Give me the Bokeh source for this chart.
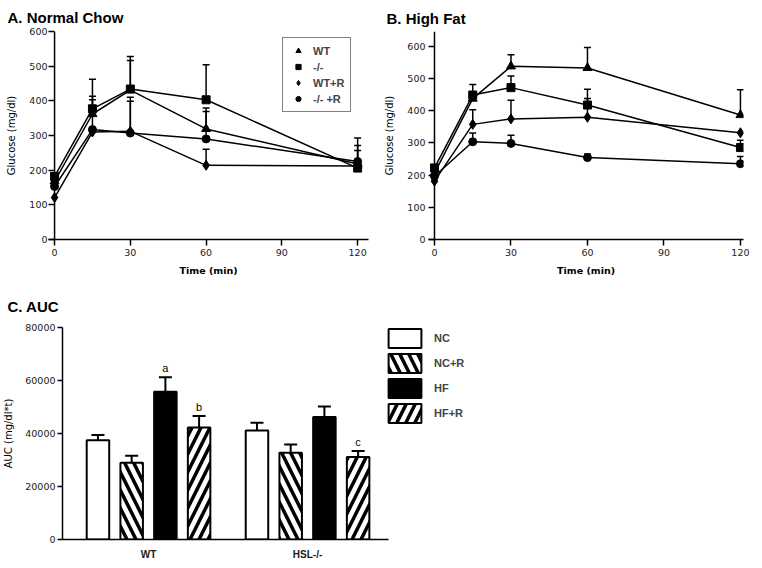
import numpy as np
from bokeh.plotting import figure
from bokeh.models import (ColumnDataSource, Whisker, TeeHead, Legend, LegendItem,
                          FixedTicker, Range1d, Span, Title)
from bokeh.layouts import column, row
from bokeh.embed import file_html
from bokeh.resources import INLINE

# ------------------------------------------------------------------ data
time_min = [0, 15, 30, 60, 120]
time_ticks = [0, 30, 60, 90, 120]
glucose_ticks = [0, 100, 200, 300, 400, 500, 600]

series_names = ["WT", "-/-", "WT+R", "-/- +R"]

# A. Normal chow (mean, SEM)
chow_wt = [168, 362, 431, 319, 218]
chow_wt_sem = [0, 51, 85, 60, 53]
chow_ko = [182, 377, 434, 403, 206]
chow_ko_sem = [0, 85, 94, 101, 0]
chow_wtr = [121, 310, 312, 214, 212]
chow_wtr_sem = [0, 0, 98, 46, 45]
chow_kor = [153, 317, 307, 290, 225]
chow_kor_sem = [0, 86, 92, 79, 68]

# B. High fat (mean, SEM)
hf_wt = [206, 437, 537, 532, 386]
hf_wt_sem = [0, 0, 36, 63, 78]
hf_ko = [222, 448, 471, 417, 285]
hf_ko_sem = [0, 33, 36, 49, 23]
hf_wtr = [181, 357, 374, 379, 331]
hf_wtr_sem = [0, 45, 58, 58, 0]
hf_kor = [196, 303, 298, 254, 235]
hf_kor_sem = [0, 27, 25, 11, 22]

# C. AUC
auc_groups = ["WT", "HSL-/-"]
auc_conditions = ["NC", "NC+R", "HF", "HF+R"]
auc_nc = [37500, 41100]
auc_nc_sem = [1900, 3000]
auc_ncr = [29000, 32750]
auc_ncr_sem = [2600, 3100]
auc_hf = [55800, 46250]
auc_hf_sem = [5400, 3900]
auc_hfr = [42250, 31100]
auc_hfr_sem = [4400, 2250]
auc_letters_nc = ["", ""]
auc_letters_ncr = ["", ""]
auc_letters_hf = ["a", ""]
auc_letters_hfr = ["b", "c"]
auc_ticks = [0, 20000, 40000, 60000, 80000]

# ------------------------------------------------------------------ styles
TICK_FONT = "DejaVu Sans"
LABEL_FONT = "DejaVu Sans"
BOLD_FONT = "Liberation Sans"
INK = "black"

marker_styles = {
    "WT": ("triangle", 9),
    "-/-": ("square", 8),
    "WT+R": ("diamond", 10),
    "-/- +R": ("circle", 8),
}


def style_axis(ax, tick_out=6, tick_in=0):
    ax.axis_line_color = INK
    ax.axis_line_width = 1.5
    ax.major_tick_line_color = INK
    ax.major_tick_line_width = 1.5
    ax.major_tick_out = tick_out
    ax.major_tick_in = tick_in
    ax.minor_tick_line_color = None
    ax.major_label_text_font = TICK_FONT
    ax.major_label_text_font_size = "9.5px"
    ax.major_label_text_color = "#1a1a1a"
    ax.axis_label_text_font = LABEL_FONT
    ax.axis_label_text_font_size = "10px"
    ax.axis_label_text_font_style = "normal"
    ax.axis_label_text_color = INK


def panel_title(p, text, offset, standoff):
    p.add_layout(Title(text=text, align="left", offset=offset, standoff=standoff,
                       text_font=BOLD_FONT, text_font_style="bold",
                       text_font_size="15px", text_color=INK), "above")


def timecourse(title, data, width, height, x_start, x_end, y_end, min_left,
               min_right, min_top, title_offset, title_standoff, y_label_standoff,
               y_tick_standoff, legend_loc=None):
    p = figure(width=width, height=height, output_backend="svg", toolbar_location=None,
               x_range=Range1d(x_start, x_end), y_range=Range1d(0, y_end),
               min_border_left=min_left, min_border_right=min_right,
               min_border_top=min_top, min_border_bottom=39,
               background_fill_color="white", border_fill_color="white")
    p.grid.visible = False
    p.outline_line_color = None

    style_axis(p.xaxis[0])
    # y axis sits at t = 0: its ticks point left from the axis line
    style_axis(p.yaxis[0], tick_out=0, tick_in=6)
    p.yaxis.axis_line_color = None
    p.add_layout(Span(location=0, dimension="height", line_color=INK, line_width=1.5))

    p.xaxis.ticker = FixedTicker(ticks=time_ticks)
    p.yaxis.ticker = FixedTicker(ticks=glucose_ticks)
    p.xaxis.axis_label = "Time (min)"
    p.xaxis.axis_label_text_font_style = "bold"
    p.xaxis.axis_label_text_font_size = "9.5px"
    p.xaxis.major_label_standoff = 3
    p.xaxis.axis_label_standoff = 6
    p.yaxis.axis_label = "Glucose (mg/dl)"
    p.yaxis.major_label_standoff = y_tick_standoff
    p.yaxis.axis_label_standoff = y_label_standoff

    items = []
    for name, vals, sem in data:
        p.line(time_min, vals, line_color=INK, line_width=1.5)
    for name, vals, sem in data:
        t = [tt for tt, s in zip(time_min, sem) if s > 0]
        lo = [v for v, s in zip(vals, sem) if s > 0]
        hi = [v + s for v, s in zip(vals, sem) if s > 0]
        src = ColumnDataSource(dict(t=t, lo=lo, hi=hi))
        w = Whisker(base="t", lower="lo", upper="hi", source=src,
                    line_color=INK, line_width=1.5, lower_head=None,
                    upper_head=TeeHead(size=7, line_color=INK, line_width=1.5))
        p.add_layout(w)
    for name, vals, sem in data:
        mk, sz = marker_styles[name]
        r = p.scatter(time_min, vals, marker=mk, size=sz, fill_color=INK,
                      line_color=INK, line_width=1)
        items.append(LegendItem(label=name, renderers=[r]))

    if legend_loc is not None:
        leg = Legend(items=items, location=legend_loc, margin=0, padding=6,
                     spacing=3, glyph_height=13, glyph_width=18, label_height=13,
                     label_standoff=6, label_text_font=BOLD_FONT,
                     label_text_font_size="11px", label_text_font_style="bold",
                     border_line_color=INK, border_line_width=1.5,
                     background_fill_color="white", background_fill_alpha=1)
        p.add_layout(leg)

    panel_title(p, title, title_offset, title_standoff)
    return p


chow_data = [("WT", chow_wt, chow_wt_sem), ("-/-", chow_ko, chow_ko_sem),
             ("WT+R", chow_wtr, chow_wtr_sem), ("-/- +R", chow_kor, chow_kor_sem)]
hf_data = [("WT", hf_wt, hf_wt_sem), ("-/-", hf_ko, hf_ko_sem),
           ("WT+R", hf_wtr, hf_wtr_sem), ("-/- +R", hf_kor, hf_kor_sem)]

pA = timecourse("A.  Normal Chow", chow_data, width=380, height=278,
                x_start=-2.4, x_end=124.3, y_end=600, min_left=48, min_right=12,
                min_top=31, title_offset=-41, title_standoff=12,
                y_label_standoff=9, y_tick_standoff=1, legend_loc=(234, 127))
pB = timecourse("B.  High Fat", hf_data, width=374, height=278,
                x_start=-2.35, x_end=121.2, y_end=645, min_left=48, min_right=11,
                min_top=28, title_offset=-42, title_standoff=9,
                y_label_standoff=9, y_tick_standoff=3)

# ------------------------------------------------------------------ C. AUC
# numeric x: one unit between group centres, bars dodged inside each group
bar_pitch = 0.212
bar_width = 0.1415
group_pos = np.arange(len(auc_groups), dtype=float)
axis_start, axis_end = -0.541, 1.509          # visible extent of the x axis line
frame_end = 3.685                              # frame continues under the legend

pC = figure(width=754, height=284, output_backend="svg", toolbar_location=None,
            x_range=Range1d(axis_start, frame_end), y_range=Range1d(0, 80000),
            min_border_left=62, min_border_right=20, min_border_top=49,
            min_border_bottom=22, background_fill_color="white",
            border_fill_color="white")
pC.grid.visible = False
pC.outline_line_color = None
style_axis(pC.xaxis[0], tick_out=0)
style_axis(pC.yaxis[0], tick_out=5)
pC.xaxis.bounds = (axis_start, axis_end)
pC.xaxis.major_tick_line_color = None
pC.xaxis.ticker = FixedTicker(ticks=list(group_pos))
pC.xaxis.major_label_overrides = {float(g): name for g, name in zip(group_pos, auc_groups)}
pC.xaxis.major_label_text_font = BOLD_FONT
pC.xaxis.major_label_text_font_style = "bold"
pC.xaxis.major_label_text_font_size = "10px"
pC.xaxis.major_label_standoff = 9
pC.yaxis.ticker = FixedTicker(ticks=auc_ticks)
pC.yaxis.axis_label = "AUC (mg/dl*t)"
pC.yaxis.major_label_standoff = 2
pC.yaxis.axis_label_standoff = 8

cond_data = [
    ("NC", auc_nc, auc_nc_sem, auc_letters_nc, dict(fill_color="white")),
    ("NC+R", auc_ncr, auc_ncr_sem, auc_letters_ncr,
     dict(fill_color="white", hatch_pattern="\\", hatch_color=INK,
          hatch_weight=3.5, hatch_scale=18)),
    ("HF", auc_hf, auc_hf_sem, auc_letters_hf, dict(fill_color=INK)),
    ("HF+R", auc_hfr, auc_hfr_sem, auc_letters_hfr,
     dict(fill_color="white", hatch_pattern="/", hatch_color=INK,
          hatch_weight=3.5, hatch_scale=18)),
]

n_cond = len(auc_conditions)
c_items = []
for ci, (cname, vals, sem, letters, style) in enumerate(cond_data):
    xs = group_pos + (ci - (n_cond - 1) / 2) * bar_pitch
    src = ColumnDataSource(dict(x=xs, top=vals, hi=np.array(vals) + np.array(sem),
                                letter=letters))
    r = pC.vbar(x="x", top="top", bottom=0, width=bar_width, source=src,
                line_color=INK, line_width=2, **style)
    w = Whisker(base="x", lower="top", upper="hi", source=src, line_color=INK,
                line_width=2, lower_head=None,
                upper_head=TeeHead(size=13, line_color=INK, line_width=2))
    pC.add_layout(w)
    pC.text(x="x", y="hi", text="letter", source=src, text_align="center",
            text_baseline="bottom", y_offset=-3, text_font_size="11px",
            text_color=INK)
    c_items.append(LegendItem(label=cname, renderers=[r]))

legC = Legend(items=c_items, location=(322, 114), margin=0, padding=0, spacing=1,
              glyph_width=41, glyph_height=24, label_height=24, label_standoff=9,
              label_text_font=BOLD_FONT, label_text_font_size="11px",
              label_text_font_style="bold", border_line_color=None,
              background_fill_alpha=0)
pC.add_layout(legC)

panel_title(pC, "C.  AUC", -55, 25)

layout = column(row(pA, pB, spacing=0), pC, spacing=0)

open("out.html", "w").write(file_html(layout, INLINE))
